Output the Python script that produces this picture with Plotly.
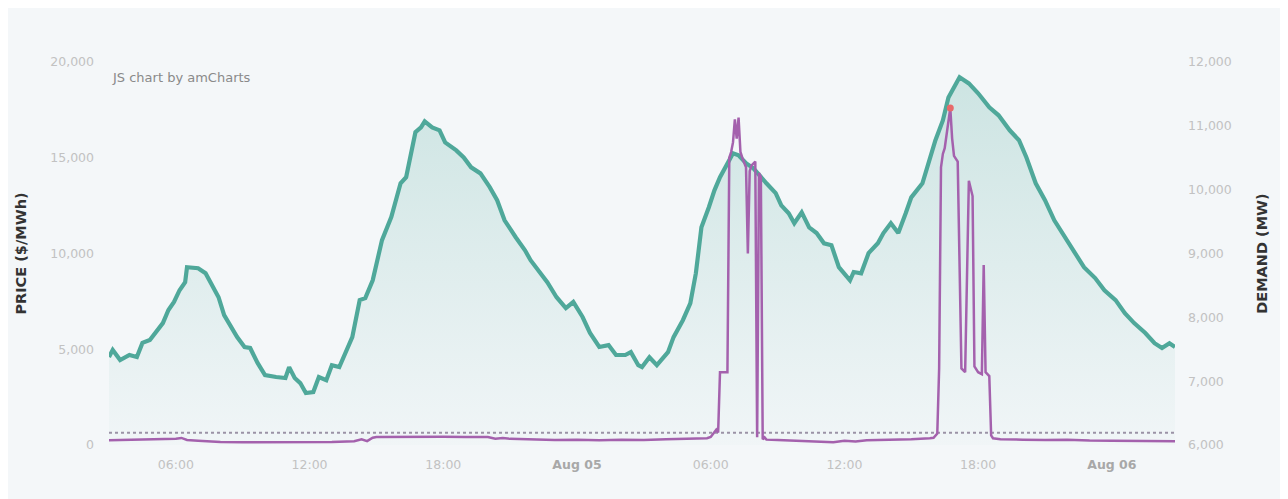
import plotly.graph_objects as go

# ---------------- data ----------------
demand_time = [
    "2019-08-04 03:00", "2019-08-04 03:10", "2019-08-04 03:30", "2019-08-04 03:55", "2019-08-04 04:15",
    "2019-08-04 04:30", "2019-08-04 04:50", "2019-08-04 05:05", "2019-08-04 05:25", "2019-08-04 05:40",
    "2019-08-04 05:55", "2019-08-04 06:10", "2019-08-04 06:25", "2019-08-04 06:30", "2019-08-04 07:00",
    "2019-08-04 07:20", "2019-08-04 07:40", "2019-08-04 07:55", "2019-08-04 08:10", "2019-08-04 08:30",
    "2019-08-04 08:45", "2019-08-04 09:05", "2019-08-04 09:20", "2019-08-04 09:40", "2019-08-04 10:00",
    "2019-08-04 10:30", "2019-08-04 10:55", "2019-08-04 11:05", "2019-08-04 11:20", "2019-08-04 11:35",
    "2019-08-04 11:50", "2019-08-04 12:10", "2019-08-04 12:25", "2019-08-04 12:45", "2019-08-04 13:00",
    "2019-08-04 13:20", "2019-08-04 13:35", "2019-08-04 13:55", "2019-08-04 14:15", "2019-08-04 14:30",
    "2019-08-04 14:50", "2019-08-04 15:15", "2019-08-04 15:40", "2019-08-04 16:05", "2019-08-04 16:20",
    "2019-08-04 16:45", "2019-08-04 17:00", "2019-08-04 17:10", "2019-08-04 17:30", "2019-08-04 17:50",
    "2019-08-04 18:05", "2019-08-04 18:35", "2019-08-04 18:55", "2019-08-04 19:15", "2019-08-04 19:40",
    "2019-08-04 20:05", "2019-08-04 20:25", "2019-08-04 20:45", "2019-08-04 21:15", "2019-08-04 21:40",
    "2019-08-04 21:55", "2019-08-04 22:20", "2019-08-04 22:40", "2019-08-04 23:05", "2019-08-04 23:30",
    "2019-08-04 23:50", "2019-08-05 00:15", "2019-08-05 00:35", "2019-08-05 01:00", "2019-08-05 01:25",
    "2019-08-05 01:45", "2019-08-05 02:10", "2019-08-05 02:25", "2019-08-05 02:45", "2019-08-05 02:55",
    "2019-08-05 03:15", "2019-08-05 03:35", "2019-08-05 04:05", "2019-08-05 04:20", "2019-08-05 04:45",
    "2019-08-05 05:05", "2019-08-05 05:20", "2019-08-05 05:35", "2019-08-05 05:55", "2019-08-05 06:10",
    "2019-08-05 06:25", "2019-08-05 06:45", "2019-08-05 07:00", "2019-08-05 07:15", "2019-08-05 07:35",
    "2019-08-05 07:55", "2019-08-05 08:15", "2019-08-05 08:30", "2019-08-05 08:55", "2019-08-05 09:10",
    "2019-08-05 09:30", "2019-08-05 09:45", "2019-08-05 10:05", "2019-08-05 10:25", "2019-08-05 10:45",
    "2019-08-05 11:05", "2019-08-05 11:25", "2019-08-05 11:45", "2019-08-05 12:15", "2019-08-05 12:25",
    "2019-08-05 12:45", "2019-08-05 13:05", "2019-08-05 13:30", "2019-08-05 13:45", "2019-08-05 14:05",
    "2019-08-05 14:25", "2019-08-05 14:45", "2019-08-05 15:00", "2019-08-05 15:30", "2019-08-05 15:50",
    "2019-08-05 16:05", "2019-08-05 16:25", "2019-08-05 16:40", "2019-08-05 17:10", "2019-08-05 17:35",
    "2019-08-05 18:00", "2019-08-05 18:30", "2019-08-05 18:55", "2019-08-05 19:25", "2019-08-05 19:50",
    "2019-08-05 20:10", "2019-08-05 20:35", "2019-08-05 21:00", "2019-08-05 21:25", "2019-08-05 21:55",
    "2019-08-05 22:20", "2019-08-05 22:45", "2019-08-05 23:15", "2019-08-05 23:40", "2019-08-06 00:10",
    "2019-08-06 00:35", "2019-08-06 01:00", "2019-08-06 01:30", "2019-08-06 01:55", "2019-08-06 02:15",
    "2019-08-06 02:35", "2019-08-06 02:50",
]
demand_mw = [
    7380, 7490, 7330, 7410, 7380, 7600, 7645, 7755, 7910, 8115,
    8240, 8425, 8550, 8785, 8770, 8690, 8475, 8315, 8035, 7845,
    7690, 7535, 7520, 7285, 7095, 7065, 7050, 7220, 7050, 6970,
    6815, 6830, 7065, 7015, 7250, 7220, 7440, 7690, 8270, 8300,
    8580, 9210, 9570, 10100, 10195, 10900, 10975, 11070, 10975, 10930,
    10740, 10615, 10505, 10350, 10255, 10040, 9835, 9520, 9255, 9050,
    8895, 8690, 8550, 8315, 8145, 8240, 8005, 7755, 7535, 7565,
    7410, 7410, 7455, 7250, 7220, 7375, 7250, 7455, 7690, 7955,
    8220, 8690, 9410, 9725, 9990, 10195, 10430, 10570, 10540, 10415,
    10335, 10195, 10100, 9945, 9755, 9630, 9475, 9645, 9410, 9320,
    9160, 9130, 8785, 8580, 8710, 8690, 9005, 9160, 9320, 9475,
    9320, 9630, 9880, 10100, 10505, 10775, 11085, 11445, 11760, 11665,
    11510, 11290, 11165, 10930, 10775, 10505, 10100, 9835, 9520, 9255,
    9005, 8785, 8615, 8425, 8270, 8065, 7910, 7755, 7595, 7520,
    7595, 7535,
]

price_time = [
    "2019-08-04 03:00", "2019-08-04 03:30", "2019-08-04 04:00", "2019-08-04 04:30", "2019-08-04 05:00",
    "2019-08-04 05:30", "2019-08-04 06:00", "2019-08-04 06:15", "2019-08-04 06:30", "2019-08-04 07:00",
    "2019-08-04 07:30", "2019-08-04 08:00", "2019-08-04 09:00", "2019-08-04 10:00", "2019-08-04 11:00",
    "2019-08-04 12:00", "2019-08-04 13:00", "2019-08-04 14:00", "2019-08-04 14:20", "2019-08-04 14:35",
    "2019-08-04 14:50", "2019-08-04 15:00", "2019-08-04 16:00", "2019-08-04 17:00", "2019-08-04 18:00",
    "2019-08-04 19:00", "2019-08-04 20:00", "2019-08-04 20:20", "2019-08-04 20:40", "2019-08-04 21:00",
    "2019-08-04 22:00", "2019-08-04 23:00", "2019-08-05 00:00", "2019-08-05 01:00", "2019-08-05 02:00",
    "2019-08-05 03:00", "2019-08-05 04:00", "2019-08-05 05:00", "2019-08-05 05:50", "2019-08-05 06:00",
    "2019-08-05 06:10", "2019-08-05 06:15", "2019-08-05 06:20", "2019-08-05 06:25", "2019-08-05 06:45",
    "2019-08-05 06:50", "2019-08-05 06:55", "2019-08-05 07:00", "2019-08-05 07:05", "2019-08-05 07:10",
    "2019-08-05 07:15", "2019-08-05 07:20", "2019-08-05 07:25", "2019-08-05 07:35", "2019-08-05 07:40",
    "2019-08-05 07:45", "2019-08-05 07:50", "2019-08-05 08:00", "2019-08-05 08:05", "2019-08-05 08:10",
    "2019-08-05 08:15", "2019-08-05 08:20", "2019-08-05 08:25", "2019-08-05 08:30", "2019-08-05 09:00",
    "2019-08-05 10:00", "2019-08-05 11:00", "2019-08-05 11:30", "2019-08-05 12:00", "2019-08-05 12:30",
    "2019-08-05 13:00", "2019-08-05 14:00", "2019-08-05 15:00", "2019-08-05 15:50", "2019-08-05 16:00",
    "2019-08-05 16:10", "2019-08-05 16:15", "2019-08-05 16:20", "2019-08-05 16:25", "2019-08-05 16:30",
    "2019-08-05 16:35", "2019-08-05 16:40", "2019-08-05 16:45", "2019-08-05 16:50", "2019-08-05 16:55",
    "2019-08-05 17:05", "2019-08-05 17:10", "2019-08-05 17:15", "2019-08-05 17:25", "2019-08-05 17:30",
    "2019-08-05 17:35", "2019-08-05 17:45", "2019-08-05 17:50", "2019-08-05 18:00", "2019-08-05 18:10",
    "2019-08-05 18:15", "2019-08-05 18:20", "2019-08-05 18:30", "2019-08-05 18:35", "2019-08-05 18:40",
    "2019-08-05 19:00", "2019-08-05 20:00", "2019-08-05 21:00", "2019-08-05 22:00", "2019-08-05 23:00",
    "2019-08-06 00:00", "2019-08-06 01:00", "2019-08-06 02:00", "2019-08-06 02:50",
]
price_val = [
    250, 260, 300, 280, 320,
    300, 330, 370, 260, 220,
    180, 160, 140, 140, 140,
    150, 160, 200, 300, 200,
    380, 420, 430, 430, 430,
    420, 420, 330, 360, 320,
    300, 260, 280, 250, 270,
    260, 300, 320, 350, 420,
    700, 800, 650, 3800, 3800,
    15000, 15300, 15800, 17000, 16000,
    17100, 15300, 15000, 14500, 10000,
    14300, 14600, 14800, 400, 14200,
    14000, 300, 400, 280, 260,
    220, 180, 150, 220, 180,
    250, 260, 300, 350, 380,
    600, 4000, 14500, 15200, 15500,
    16200, 17000, 17600, 16000, 15100,
    14800, 10000, 4000, 3800, 9000,
    13800, 13000, 4100, 3800, 3700,
    9400, 3800, 3600, 500, 350,
    300, 280, 260, 280, 230,
    220, 200, 200, 200,
]

ref_price = 640

tick_times = [
    "2019-08-04 06:00", "2019-08-04 12:00", "2019-08-04 18:00", "2019-08-05 00:00",
    "2019-08-05 06:00", "2019-08-05 12:00", "2019-08-05 18:00", "2019-08-06 00:00",
]
tick_text = [
    "06:00", "12:00", "18:00", "<b><span style='color:#a8a8a8'>Aug 05</span></b>",
    "06:00", "12:00", "18:00", "<b><span style='color:#a8a8a8'>Aug 06</span></b>",
]

# ---------------- style ----------------
BG = "#f4f7f9"
TEAL = "#4fa89a"
PURPLE = "#a461ad"
FONT = "DejaVu Sans"

max_idx = max(range(len(price_val)), key=lambda i: price_val[i])

fig = go.Figure()

fig.add_trace(go.Scatter(
    x=demand_time, y=demand_mw, mode="lines", yaxis="y",
    line=dict(color=TEAL, width=4.2),
    fill="tozeroy",
    fillgradient=dict(
        type="vertical",
        colorscale=[[0, "rgba(79,168,154,0.02)"], [1, "rgba(79,168,154,0.24)"]],
        start=6000, stop=11800,
    ),
    hoverinfo="skip", showlegend=False,
))

fig.add_trace(go.Scatter(
    x=[price_time[0], price_time[-1]], y=[ref_price, ref_price], mode="lines", yaxis="y2",
    line=dict(color="#9b92a6", width=2, dash="dot"),
    hoverinfo="skip", showlegend=False,
))

fig.add_trace(go.Scatter(
    x=price_time, y=price_val, mode="lines", yaxis="y2",
    line=dict(color=PURPLE, width=2.5),
    hoverinfo="skip", showlegend=False,
))

fig.add_trace(go.Scatter(
    x=[price_time[max_idx]], y=[price_val[max_idx]], mode="markers", yaxis="y2",
    marker=dict(color="#e86a6a", size=7),
    hoverinfo="skip", showlegend=False,
))

tickfont = dict(family=FONT, size=12.5, color="#c2c2c2")

fig.update_layout(
    width=1288, height=499,
    margin=dict(l=97, r=121, t=54, b=62),
    paper_bgcolor=BG, plot_bgcolor=BG,
    font=dict(family=FONT),
    xaxis=dict(
        type="date",
        range=[price_time[0], price_time[-1]],
        tickvals=tick_times, ticktext=tick_text,
        showgrid=False, zeroline=False, showline=False,
        tickfont=tickfont, ticklabelstandoff=10,
    ),
    yaxis=dict(
        side="right", range=[6000, 12000], tickvals=[6000, 7000, 8000, 9000, 10000, 11000, 12000],
        tickformat=",d", showgrid=False, zeroline=False, showline=False,
        tickfont=tickfont, ticklabelstandoff=12,
        title=dict(text="<b>DEMAND (MW)</b>", font=dict(family=FONT, size=14.5, color="#333333"), standoff=26),
    ),
    yaxis2=dict(
        side="left", overlaying="y", range=[0, 20000],
        tickvals=[0, 5000, 10000, 15000, 20000],
        tickformat=",d", showgrid=False, zeroline=False, showline=False,
        tickfont=tickfont, ticklabelstandoff=14,
        title=dict(text="<b>PRICE ($/MWh)</b>", font=dict(family=FONT, size=14.5, color="#333333"), standoff=20),
    ),
    annotations=[dict(
        text="JS chart by amCharts", xref="paper", yref="paper", x=0, y=1,
        xanchor="left", yanchor="top", xshift=1, yshift=-6, showarrow=False,
        font=dict(family=FONT, size=13, color="#8a8a8a"),
    )],
)

fig.write_html("out.html")
